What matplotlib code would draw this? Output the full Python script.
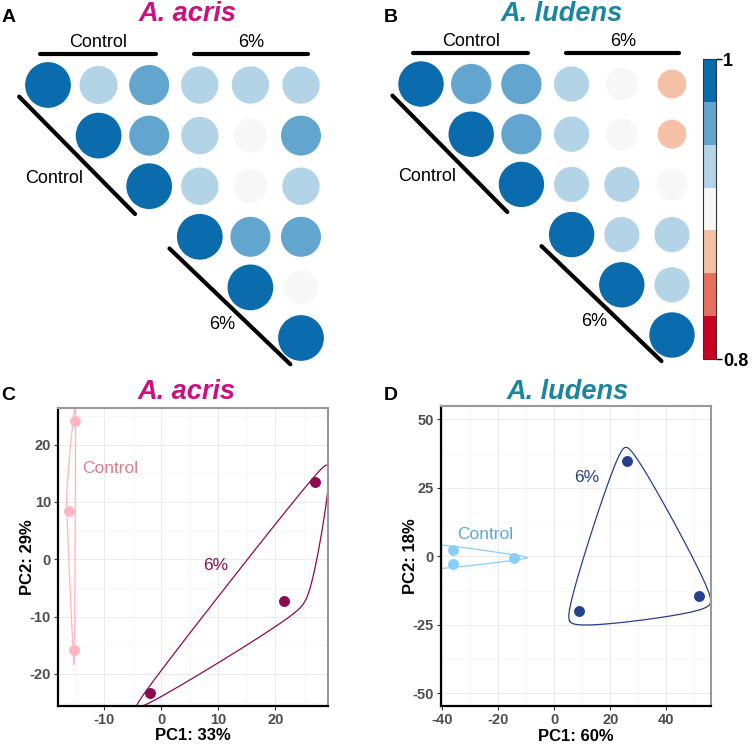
import numpy as np
import matplotlib
matplotlib.use("Agg")
import matplotlib.pyplot as plt
from matplotlib.colors import ListedColormap, BoundaryNorm
from matplotlib.patches import Circle
from matplotlib.ticker import MultipleLocator
import matplotlib.colorbar as mcolorbar

plt.rcParams['font.family'] = ['Liberation Sans', 'DejaVu Sans']
plt.rcParams['axes.unicode_minus'] = False

W, H = 754, 744

# correlation matrices, upper triangle row by row (3 control + 3 at 6%)
acris_corr = [[1.0, 0.94, 0.955, 0.935, 0.935, 0.935],
              [1.0, 0.955, 0.935, 0.905, 0.955],
              [1.0, 0.935, 0.905, 0.935],
              [1.0, 0.955, 0.955],
              [1.0, 0.905],
              [1.0]]
ludens_corr = [[1.0, 0.96, 0.96, 0.92, 0.895, 0.87],
               [1.0, 0.96, 0.92, 0.895, 0.87],
               [1.0, 0.92, 0.92, 0.895],
               [1.0, 0.92, 0.92],
               [1.0, 0.92],
               [1.0]]
cbar_colors = ['#ca0020', '#e4705d', '#f5c1a6', '#f7f7f7', '#b3d4e7', '#62a5cf', '#0a6bad']
cbar_bounds = np.linspace(0.8, 1.0, 8)
cbar_ticks = [0.8, 1.0]
cbar_ticklabels = ['0.8', '1']

# PCA scores
acris_ctrl_pc1 = [-15.1, -16.1, -15.3]
acris_ctrl_pc2 = [24.1, 8.4, -15.9]
acris_6_pc1 = [-2.0, 21.5, 27.0]
acris_6_pc2 = [-23.3, -7.2, 13.5]
ludens_ctrl_pc1 = [-36.1, -36.1, -14.5]
ludens_ctrl_pc2 = [2.4, -2.7, -0.4]
ludens_6_pc1 = [8.9, 25.9, 51.7]
ludens_6_pc2 = [-20.1, 34.9, -14.4]

acris_xticks = [-10, 0, 10, 20]
acris_yticks = [-20, -10, 0, 10, 20]
ludens_xticks = [-40, -20, 0, 20, 40]
ludens_yticks = [-50, -25, 0, 25, 50]

cmap = ListedColormap(cbar_colors)
norm = BoundaryNorm(cbar_bounds, cmap.N)


def fpos(x, y, w, h):
    # pixel box (top-left origin) -> figure fraction
    return [x / W, 1 - (y + h) / H, w / W, h / H]


def draw_corr(ax, rows):
    n = len(rows)
    for i, row in enumerate(rows):
        for k, v in enumerate(row):
            j = i + k
            r = 0.452 * (1 - 2.8 * (1 - v))
            ax.add_patch(Circle((j, i), r, color=cmap(norm(min(v, 0.9999))), lw=0))
    ax.set_xlim(-0.5, n - 0.5)
    ax.set_ylim(n - 0.5, -0.5)
    ax.axis('off')
    kw = dict(color='black', lw=3, solid_capstyle='round', clip_on=False)
    ax.plot([-0.15, 2.14], [-0.61, -0.61], **kw)
    ax.plot([2.88, 5.14], [-0.61, -0.61], **kw)
    ax.plot([-0.57, 1.72], [0.23, 2.55], **kw)
    ax.plot([2.4, 4.79], [3.23, 5.52], **kw)
    tk = dict(fontsize=13, ha='center', va='center', clip_on=False)
    ax.text(1.0, -0.84, 'Control', **tk)
    ax.text(4.02, -0.84, '6%', **tk)
    ax.text(0.12, 1.85, 'Control', **tk)
    ax.text(3.44, 4.73, '6%', **tk)


def xspline_closed(ctrl, shape=-0.5, n=80):
    # closed X-spline (Blanc & Schlick), negative shape -> interpolating
    q = -shape
    g = lambda u: u * (q + u * (2 * q + u * (10 - q + u * (2 * q - 15 + u * (6 - q)))))
    h = lambda u: u * (q + u * (2 * q + u * u * (-2 * q - u * q)))
    t = np.linspace(0, 1, n, endpoint=False)
    N = len(ctrl)
    out = []
    for k in range(N):
        p0, p1, p2, p3 = ctrl[(k - 1) % N], ctrl[k], ctrl[(k + 1) % N], ctrl[(k + 2) % N]
        a0, a1, a2, a3 = h(-t), g(1 - t), g(t), h(t - 1)
        s = a0 + a1 + a2 + a3
        seg = (np.outer(a0, p0) + np.outer(a1, p1) + np.outer(a2, p2) + np.outer(a3, p3)) / s[:, None]
        out.append(seg)
    out = np.vstack(out)
    return np.vstack([out, out[:1]])


def encircle(ax, xs, ys, color, expand=0.05):
    pts = ax.transData.transform(np.column_stack([xs, ys]))
    c = pts.mean(axis=0)
    bb = ax.get_window_extent()
    d = expand * min(bb.width, bb.height)
    v = pts - c
    # three points: all of them are hull vertices, order them round the centre
    order = np.argsort(np.arctan2(v[:, 1], v[:, 0]))
    ctrl = (pts + d * v / np.linalg.norm(v, axis=1)[:, None])[order]
    curve = ax.transData.inverted().transform(xspline_closed(ctrl))
    ax.plot(curve[:, 0], curve[:, 1], color=color, lw=0.9, zorder=2)


def pca_panel(ax, groups, xlim, ylim, xticks, yticks, xminor, yminor, xlabel, ylabel):
    ax.set_xlim(*xlim)
    ax.set_ylim(*ylim)
    ax.set_xticks(xticks)
    ax.set_xticklabels([str(t) for t in xticks], fontweight='bold')
    ax.set_yticks(yticks)
    ax.set_yticklabels([str(t) for t in yticks], fontweight='bold')
    ax.xaxis.set_minor_locator(MultipleLocator(xminor))
    ax.yaxis.set_minor_locator(MultipleLocator(yminor))
    ax.grid(which='major', color='#ebebeb', lw=0.7)
    ax.grid(which='minor', color='#f4f4f4', lw=0.5)
    ax.set_axisbelow(True)
    ax.tick_params(which='major', length=3, width=0.8, color='#333333',
                   labelsize=10.5, labelcolor='#4d4d4d', pad=2)
    ax.tick_params(which='minor', length=0)
    for s in ['left', 'bottom']:
        ax.spines[s].set_color('black')
        ax.spines[s].set_linewidth(1.6)
    for s in ['top', 'right']:
        ax.spines[s].set_color('#999999')
        ax.spines[s].set_linewidth(1.5)
    ax.set_xlabel(xlabel, fontsize=12, fontweight='bold')
    ax.set_ylabel(ylabel, fontsize=12, fontweight='bold')
    ax.xaxis.set_label_coords(0.5, -0.10)
    ax.xaxis.label.set_va('center')
    ax.yaxis.set_label_coords(-0.112, 0.5)
    ax.yaxis.label.set_va('center')
    for xs, ys, line_col, text_col, label, lx, ly, ha, expand in groups:
        encircle(ax, xs, ys, line_col, expand)
        ax.scatter(xs, ys, s=62, color=line_col, zorder=3, lw=0)
        ax.text(lx, ly, label, color=text_col, fontsize=12.5, ha=ha, va='center')


fig = plt.figure(figsize=(W / 100, H / 100), dpi=100)

ax_a = fig.add_axes(fpos(22.7, 59.7, 303.6, 303.6))
draw_corr(ax_a, acris_corr)
ax_b = fig.add_axes(fpos(395.9, 58.9, 301.2, 301.2))
draw_corr(ax_b, ludens_corr)

cax = fig.add_axes(fpos(703, 59, 13, 300))
cb = mcolorbar.ColorbarBase(cax, cmap=cmap, norm=norm, boundaries=cbar_bounds,
                            ticks=cbar_ticks, spacing='proportional')
cb.set_ticklabels(cbar_ticklabels)
cb.minorticks_off()
cb.outline.set_linewidth(0.8)
cb.outline.set_edgecolor('#333333')
cax.tick_params(which='minor', length=0)
cax.tick_params(which='major', length=4, width=1, color='black', labelsize=13, pad=1)
for t in cax.get_yticklabels():
    t.set_fontweight('bold')

ax_c = fig.add_axes(fpos(58, 408, 270, 298))
pca_panel(ax_c,
          [(acris_ctrl_pc1, acris_ctrl_pc2, '#ffb6c1', '#e07b8c', 'Control', -13.9, 15.8, 'left', 0.05),
           (acris_6_pc1, acris_6_pc2, '#8b0a50', '#8b0a50', '6%', 9.6, -1.0, 'center', 0.07)],
          (-18.1, 29.2), (-25.6, 26.4), acris_xticks, acris_yticks, 5, 5,
          'PC1: 33%', 'PC2: 29%')

ax_d = fig.add_axes(fpos(441, 406, 270, 300.3))
pca_panel(ax_d,
          [(ludens_ctrl_pc1, ludens_ctrl_pc2, '#87cefa', '#5aa8dc', 'Control', -24.6, 8.0, 'center', 0.05),
           (ludens_6_pc1, ludens_6_pc2, '#27408b', '#27408b', '6%', 11.4, 28.9, 'center', 0.05)],
          (-40.5, 56.0), (-54.7, 54.9), ludens_xticks, ludens_yticks, 10, 12.5,
          'PC1: 60%', 'PC2: 18%')

title_kw = dict(fontsize=19.5, fontweight='bold', style='italic', ha='center', va='center')
fig.text(188 / W, 1 - 14 / H, 'A. acris', color='#cc1080', **title_kw)
fig.text(562 / W, 1 - 14 / H, 'A. ludens', color='#1a86a0', **title_kw)
fig.text(187 / W, 1 - 392 / H, 'A. acris', color='#cc1080', **title_kw)
fig.text(568 / W, 1 - 392 / H, 'A. ludens', color='#1a86a0', **title_kw)

letter_kw = dict(fontsize=14, fontweight='bold', ha='center', va='center')
for lab, x, y in [('A', 9, 18), ('B', 391, 18), ('C', 8, 396), ('D', 391, 396)]:
    fig.text(x / W, 1 - y / H, lab, **letter_kw)

fig.savefig('out.png', dpi=100)
